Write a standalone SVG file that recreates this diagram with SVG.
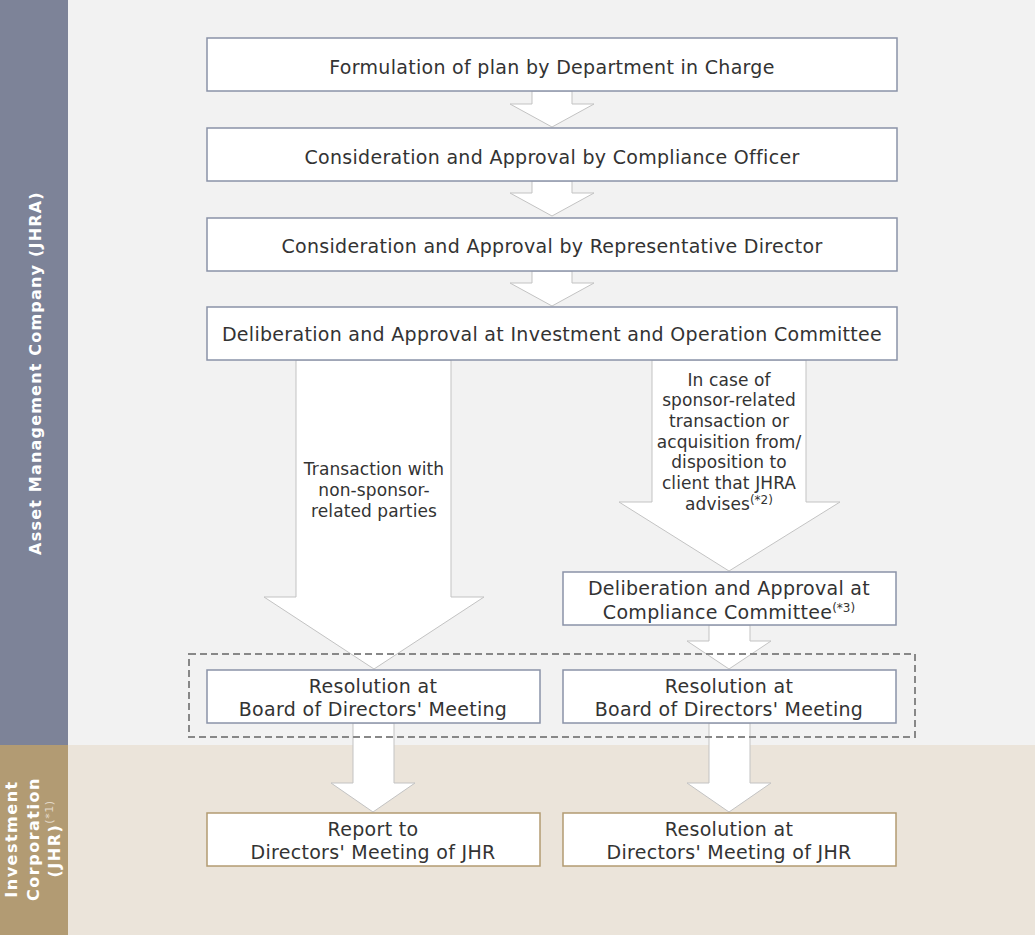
<svg xmlns="http://www.w3.org/2000/svg" width="1035" height="935" viewBox="0 0 1035 935">
<style>
.bx{fill:#ffffff;stroke:#8a93a8;stroke-width:1.5}
.bt{fill:#ffffff;stroke:#b39b72;stroke-width:1.5}
.ar{fill:#ffffff;stroke:#c3c3c3;stroke-width:1}
.t{font-family:"DejaVu Sans",Verdana,sans-serif;font-size:19px;letter-spacing:0.3px;fill:#333333;text-anchor:middle}
.s{font-family:"DejaVu Sans",Verdana,sans-serif;font-size:17px;letter-spacing:0.1px;fill:#333333;text-anchor:middle}
.sup{font-size:12px;letter-spacing:0}
.lb{font-family:"DejaVu Sans",Verdana,sans-serif;font-size:16px;font-weight:bold;letter-spacing:1.2px;fill:#ffffff;text-anchor:middle}
</style>
<rect x="0" y="0" width="1035" height="745" fill="#f2f2f2"/>
<rect x="0" y="745" width="1035" height="190" fill="#ebe4da"/>
<rect x="0" y="0" width="68" height="745" fill="#7d8398"/>
<rect x="0" y="745" width="68" height="190" fill="#b29b73"/>
<text class="lb" transform="translate(41,373) rotate(-90)">Asset Management Company (JHRA)</text>
<g transform="translate(39,839) rotate(-90)">
<text class="lb" x="0" y="-22" style="letter-spacing:1.5px">Investment</text>
<text class="lb" x="0" y="0" style="letter-spacing:1.5px">Corporation</text>
<text class="lb" x="0" y="21" style="letter-spacing:1.5px">(JHR)<tspan font-size="11" font-weight="normal" fill="#e3d9c8" dy="-7" style="letter-spacing:0.5px">(*1)</tspan></text>
</g>
<g id="connectors">
<polygon class="ar" points="532,91 572,91 572,104 594,104 552,127 510,104 532,104"/>
<polygon class="ar" points="532,181 572,181 572,193 594,193 552,216 510,193 532,193"/>
<polygon class="ar" points="532,271 572,271 572,283 594,283 552,306 510,283 532,283"/>
<polygon class="ar" points="296,360 451,360 451,597 484,597 374,669 264,597 296,597"/>
<polygon class="ar" points="652,360 806,360 806,502 840,502 729,571 619,502 652,502"/>
<polygon class="ar" points="709,625 750,625 750,641 771,641 729,669 687,641 709,641"/>
<polygon class="ar" points="353,723 394,723 394,783 415,783 373,812 331,783 353,783"/>
<polygon class="ar" points="709,723 750,723 750,783 771,783 729,812 687,783 709,783"/>
<rect x="189" y="654" width="726" height="83" fill="none" stroke="#888888" stroke-width="2" stroke-dasharray="7,4"/>
</g>
<g id="n1"><rect class="bx" x="207" y="38" width="690" height="53"/><text class="t" x="552" y="73.5">Formulation of plan by Department in Charge</text></g>
<g id="n2"><rect class="bx" x="207" y="128" width="690" height="53"/><text class="t" x="552" y="163.5">Consideration and Approval by Compliance Officer</text></g>
<g id="n3"><rect class="bx" x="207" y="218" width="690" height="53"/><text class="t" x="552" y="253">Consideration and Approval by Representative Director</text></g>
<g id="n4"><rect class="bx" x="207" y="307" width="690" height="53"/><text class="t" x="552" y="341">Deliberation and Approval at Investment and Operation Committee</text></g>
<g id="l1"><text class="s" x="374" y="475">Transaction with</text><text class="s" x="374" y="496">non-sponsor-</text><text class="s" x="374" y="516.5">related parties</text></g>
<g id="l2">
<text class="s" x="729" y="385.5">In case of</text>
<text class="s" x="729" y="406.2">sponsor-related</text>
<text class="s" x="729" y="426.9">transaction or</text>
<text class="s" x="729" y="447.6">acquisition from/</text>
<text class="s" x="729" y="468.3">disposition to</text>
<text class="s" x="729" y="489">client that JHRA</text>
<text class="s" x="729" y="509.7">advises<tspan class="sup" dy="-6">(*2)</tspan></text>
</g>
<g id="n5"><rect class="bx" x="563" y="572" width="333" height="53"/><text class="t" x="729" y="594.5">Deliberation and Approval at</text><text class="t" x="729" y="618.5">Compliance Committee<tspan class="sup" dy="-7">(*3)</tspan></text></g>
<g id="n6"><rect class="bx" x="207" y="670" width="333" height="53"/><text class="t" x="373" y="692.5">Resolution at</text><text class="t" x="373" y="716">Board of Directors' Meeting</text></g>
<g id="n7"><rect class="bx" x="563" y="670" width="333" height="53"/><text class="t" x="729" y="692.5">Resolution at</text><text class="t" x="729" y="716">Board of Directors' Meeting</text></g>
<g id="n8"><rect class="bt" x="207" y="813" width="333" height="53"/><text class="t" x="373" y="835.5">Report to</text><text class="t" x="373" y="859">Directors' Meeting of JHR</text></g>
<g id="n9"><rect class="bt" x="563" y="813" width="333" height="53"/><text class="t" x="729" y="835.5">Resolution at</text><text class="t" x="729" y="859">Directors' Meeting of JHR</text></g>
</svg>
